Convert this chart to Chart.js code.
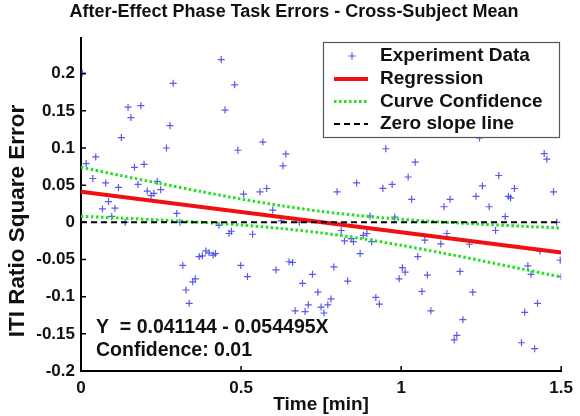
<!DOCTYPE html>
<html><head><meta charset="utf-8">
<script src="https://cdn.jsdelivr.net/npm/chart.js@4/dist/chart.umd.min.js"></script>
<style>html,body{margin:0;padding:0;background:#fff;}</style>
</head><body>
<canvas id="c" width="580" height="416" style="width:580px;height:416px;display:block"></canvas>
<script>
// ---- data ----
const timeMin = [0.004,0.438,0.48,0.288,0.147,0.187,0.156,0.45,0.278,0.126,0.267,0.49,0.046,0.016,0.167,0.197,0.037,0.077,0.178,0.238,0.117,0.207,0.249,0.228,0.219,0.086,0.067,0.106,0.096,0.138,0.508,0.559,0.58,0.568,0.631,0.64,0.952,0.861,0.80,0.943,0.972,1.245,1.044,1.447,1.455,1.022,1.305,1.254,1.354,1.476,1.234,1.335,1.342,1.153,1.033,1.134,1.275,1.325,1.486,0.813,0.823,0.851,0.844,0.882,0.893,0.908,0.903,0.98,0.872,0.79,0.833,0.921,0.932,0.75,0.759,0.771,0.781,0.994,1.004,1.0125,1.074,1.052,1.124,1.143,1.082,1.065,1.093,1.184,1.213,1.224,1.193,1.166,1.174,1.295,1.396,1.406,1.434,1.497,1.5,1.426,1.386,1.376,1.417,0.299,0.309,0.318,0.328,0.338,0.349,0.357,0.369,0.379,0.39,0.40,0.413,0.42,0.431,0.4625,0.47,0.499,0.52,0.536,0.599,0.609,0.625,0.65,0.661,0.682,0.692,0.71,0.669,0.70,0.723,0.74];
const sqError = [0.201,0.219,0.185,0.187,0.155,0.157,0.141,0.151,0.130,0.114,0.100,0.097,0.088,0.079,0.074,0.078,0.059,0.053,0.051,0.055,0.047,0.042,0.044,0.039,0.036,0.028,0.018,0.019,0.008,0.000,0.038,0.041,0.0455,0.108,0.076,0.092,0.099,0.053,0.041,0.0456,0.051,0.1135,0.081,0.0925,0.085,0.061,0.063,0.049,0.0455,0.041,0.035,0.035,0.033,0.031,0.031,0.021,0.021,0.0076,0.000,-0.011,-0.025,-0.026,-0.022,-0.0175,-0.015,-0.026,0.0085,0.007,-0.042,-0.060,-0.079,-0.101,-0.110,-0.114,-0.122,-0.111,-0.103,-0.076,-0.061,-0.067,-0.024,-0.046,-0.029,-0.015,-0.071,-0.093,-0.119,-0.066,-0.0295,-0.094,-0.131,-0.158,-0.152,-0.011,-0.0585,-0.070,-0.039,-0.051,-0.073,-0.109,-0.121,-0.162,-0.170,0.012,0.000,-0.058,-0.091,-0.109,-0.080,-0.076,-0.046,-0.045,-0.0385,-0.041,-0.044,-0.042,-0.004,-0.015,-0.012,-0.058,-0.073,-0.016,0.0165,-0.064,0.002,-0.053,-0.054,0.000,-0.082,-0.111,-0.119,-0.120,-0.070,-0.094];
const regX = [0, 1.5];
const regY = [0.041144, -0.040599];
const confX = [0,0.125,0.25,0.375,0.5,0.625,0.75,0.875,1.0,1.125,1.25,1.375,1.5];
const confUpper = [0.0741,0.0629,0.0520,0.0414,0.0314,0.0224,0.0148,0.0088,0.0041,0.0005,-0.0025,-0.0052,-0.0076];
const confLower = [0.0081,0.0057,0.0030,0.0000,-0.0036,-0.0082,-0.0142,-0.0218,-0.0309,-0.0409,-0.0515,-0.0624,-0.0736];
const zeroX = [0, 1.5];
const zeroY = [0, 0];
const xTicks = [0, 0.5, 1, 1.5];
const xTickLabels = ['0', '0.5', '1', '1.5'];
const yTicks = [-0.2,-0.15,-0.1,-0.05,0,0.05,0.1,0.15,0.2];
const yTickLabels = ['-0.2','-0.15','-0.1','-0.05','0','0.05','0.1','0.15','0.2'];
const legendLabels = ['Experiment Data','Regression','Curve Confidence','Zero slope line'];
const titleText = 'After-Effect Phase Task Errors - Cross-Subject Mean';
const xTitle = 'Time [min]';
const yTitle = 'ITI Ratio Square Error';
const noteLines = ['Y  = 0.041144 - 0.054495X', 'Confidence: 0.01'];

// ---- styles ----
const FF = '"Liberation Sans", Arial, Helvetica, sans-serif';
const PT_COLOR = 'rgba(60,60,230,0.85)';
const RED = '#f01010';
const GREEN = '#20e020';

const pts = timeMin.map((x,i)=>({x, y: sqError[i]}));
const zip = (xs, ys) => xs.map((x,i)=>({x, y: ys[i]}));

const overlay = {
  id: 'overlay',
  afterDraw(chart) {
    const ctx = chart.ctx, ca = chart.chartArea;
    const xs = chart.scales.x, ys = chart.scales.y;
    ctx.save();
    // title
    ctx.fillStyle = '#111';
    ctx.font = 'bold 18px ' + FF;
    ctx.textBaseline = 'middle'; ctx.textAlign = 'center';
    ctx.fillText(titleText, 294, 12.5);
    // y axis title
    ctx.save();
    ctx.translate(18, 221);
    ctx.rotate(-Math.PI / 2);
    ctx.font = 'bold 22.5px ' + FF;
    ctx.fillText(yTitle, 0, 0);
    ctx.restore();
    // inward ticks
    ctx.strokeStyle = '#000'; ctx.lineWidth = 1.5;
    ctx.beginPath();
    yTicks.forEach(v => { const py = ys.getPixelForValue(v); ctx.moveTo(ca.left, py); ctx.lineTo(ca.left + 5, py); });
    xTicks.forEach(v => { const px = xs.getPixelForValue(v); ctx.moveTo(px, ca.bottom); ctx.lineTo(px, ca.bottom - 5); });
    ctx.stroke();
    // annotation
    ctx.fillStyle = '#111';
    ctx.font = 'bold 19.5px ' + FF;
    ctx.textBaseline = 'middle'; ctx.textAlign = 'left';
    ctx.fillText(noteLines[0], 96, 328);
    ctx.fillText(noteLines[1], 96, 351);
    // legend
    const bx = 323.5, by = 42.5, bw = 236, bh = 95;
    ctx.fillStyle = '#fff';
    ctx.fillRect(bx, by, bw, bh);
    ctx.strokeStyle = '#555'; ctx.lineWidth = 1.2;
    ctx.strokeRect(bx, by, bw, bh);
    const rows = [56, 79, 101.5, 124];
    const lx0 = 334, lx1 = 368;
    ctx.strokeStyle = PT_COLOR; ctx.lineWidth = 1.2;
    ctx.beginPath(); ctx.moveTo(352-3.5, rows[0]); ctx.lineTo(352+3.5, rows[0]); ctx.moveTo(352, rows[0]-3.5); ctx.lineTo(352, rows[0]+3.5); ctx.stroke();
    ctx.strokeStyle = RED; ctx.lineWidth = 4; ctx.setLineDash([]);
    ctx.beginPath(); ctx.moveTo(lx0, rows[1]); ctx.lineTo(lx1, rows[1]); ctx.stroke();
    ctx.strokeStyle = GREEN; ctx.lineWidth = 3; ctx.setLineDash([2.5, 2.5]);
    ctx.beginPath(); ctx.moveTo(lx0, rows[2]); ctx.lineTo(lx1, rows[2]); ctx.stroke();
    ctx.strokeStyle = '#000'; ctx.lineWidth = 2; ctx.setLineDash([6, 4]);
    ctx.beginPath(); ctx.moveTo(lx0, rows[3]); ctx.lineTo(lx1, rows[3]); ctx.stroke();
    ctx.setLineDash([]);
    ctx.fillStyle = '#111'; ctx.font = 'bold 19px ' + FF;
    legendLabels.forEach((t,i)=> ctx.fillText(t, 380, rows[i]));
    ctx.restore();
  }
};

new Chart(document.getElementById('c'), {
  type: 'scatter',
  data: {
    datasets: [
      { label: legendLabels[3], type: 'line', data: zip(zeroX, zeroY), borderColor: '#000', borderWidth: 2, borderDash: [6,4], pointRadius: 0, fill: false, order: 0 },
      { label: legendLabels[2], type: 'line', data: zip(confX, confUpper), borderColor: GREEN, borderWidth: 3, borderDash: [2.5,2.5], pointRadius: 0, tension: 0.3, fill: false, order: 1 },
      { label: legendLabels[2] + ' low', type: 'line', data: zip(confX, confLower), borderColor: GREEN, borderWidth: 3, borderDash: [2.5,2.5], pointRadius: 0, tension: 0.3, fill: false, order: 1 },
      { label: legendLabels[1], type: 'line', data: zip(regX, regY), borderColor: RED, borderWidth: 4, pointRadius: 0, fill: false, order: 2 },
      { label: legendLabels[0], data: pts, pointStyle: 'cross', pointRadius: 3.5, pointBorderWidth: 1.2, borderColor: PT_COLOR, backgroundColor: PT_COLOR, order: 3 }
    ]
  },
  options: {
    responsive: false, animation: false, devicePixelRatio: 1,
    layout: { padding: { left: 0, right: 18.5, top: 38.3, bottom: 0 } },
    plugins: {
      legend: { display: false }, tooltip: { enabled: false }, title: { display: false }
    },
    scales: {
      x: {
        type: 'linear', min: 0, max: 1.5,
        afterBuildTicks: s => { s.ticks = xTicks.map(v => ({ value: v })); },
        afterFit: s => { s.height = 45; },
        grid: { display: false, drawTicks: false },
        border: { display: true, color: '#000', width: 2 },
        ticks: { color: '#111', padding: 7, font: { family: FF, size: 17, weight: 'bold' }, maxRotation: 0, autoSkip: false,
          callback: (v) => { const i = xTicks.indexOf(v); return i >= 0 ? xTickLabels[i] : ''; } },
        title: { display: true, text: xTitle, color: '#111', font: { family: FF, size: 19, weight: 'bold', lineHeight: 1.2 }, padding: { top: 0, bottom: 0 } }
      },
      y: {
        type: 'linear', min: -0.2, max: 0.2476,
        afterBuildTicks: s => { s.ticks = yTicks.map(v => ({ value: v })); },
        afterFit: s => { s.width = 81; },
        grid: { display: false, drawTicks: false },
        border: { display: true, color: '#000', width: 2 },
        ticks: { color: '#111', padding: 6, font: { family: FF, size: 17, weight: 'bold' }, autoSkip: false,
          callback: (v) => { const i = yTicks.findIndex(t => Math.abs(t - v) < 1e-9); return i >= 0 ? yTickLabels[i] : ''; } },
        title: { display: false }
      }
    }
  },
  plugins: [overlay]
});
</script>
</body></html>
